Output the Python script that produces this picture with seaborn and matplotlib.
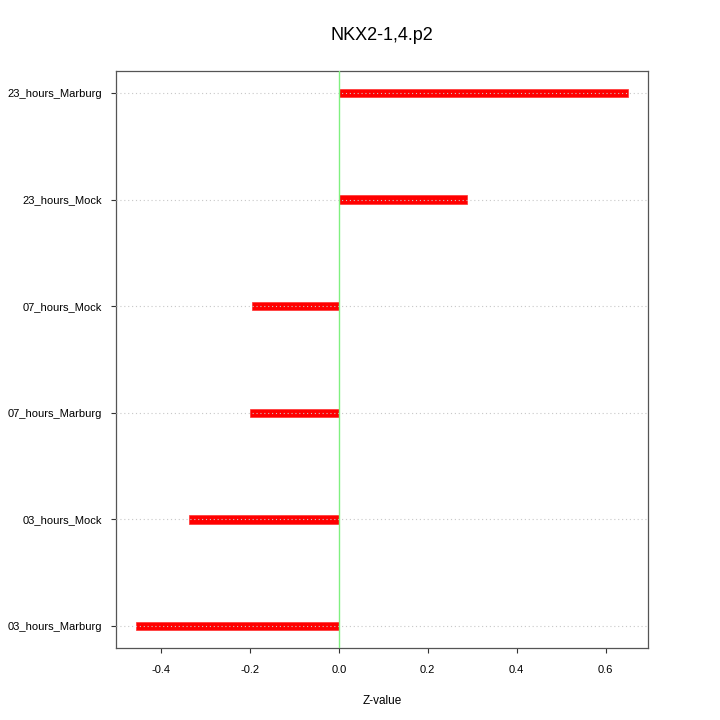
import matplotlib
matplotlib.use("Agg")
import matplotlib.pyplot as plt
import seaborn as sns
import pandas as pd

categories = ["23_hours_Marburg", "23_hours_Mock", "07_hours_Mock",
              "07_hours_Marburg", "03_hours_Mock", "03_hours_Marburg"]
values = [0.651, 0.288, -0.196, -0.200, -0.338, -0.457]
xticks = [-0.4, -0.2, 0.0, 0.2, 0.4, 0.6]
title = "NKX2-1,4.p2"
xlabel = "Z-value"

sns.set_theme(style="white")
plt.rcParams['font.family'] = ['Liberation Sans', 'DejaVu Sans']
plt.rcParams['text.color'] = 'black'

df = pd.DataFrame({"cat": categories, "val": values})

fig = plt.figure(figsize=(7.2, 7.2), dpi=100)
ax = fig.add_axes([116/720, 72/720, (648-116)/720, (648-71)/720])

sns.barplot(data=df, x="val", y="cat", order=categories, orient="h",
            width=0.08, color="#ff0000", saturation=1, ax=ax, zorder=2,
            edgecolor="#ff3030", linewidth=0.5)

for i in range(len(categories)):
    ax.axhline(i, color="#c8c8c8", linestyle=(0, (1, 2.5)), linewidth=0.8, zorder=3)
ax.axvline(0, color="#80f080", linewidth=1.0, zorder=4)

ax.set_xlim(-0.5015, 0.6955)
ax.set_ylim(5.206, -0.206)
ax.set_xticks(xticks)
ax.set_xticklabels([f"{t:.1f}" for t in xticks], fontsize=8)
ax.tick_params(axis="both", which="both", direction="out", length=3.5, width=0.8,
               color="#333333", labelsize=8, labelcolor="black",
               bottom=True, left=True)
ax.tick_params(axis="y", pad=6.5)
ax.tick_params(axis="x", pad=9)
ax.set_yticks(range(len(categories)))
ax.set_yticklabels(categories, fontsize=8)
ax.set_ylabel("")
ax.set_xlabel(xlabel, fontsize=8.5, labelpad=14.5, color="black")
for s in ax.spines.values():
    s.set_color("#555555")
    s.set_linewidth(0.9)
    s.set_visible(True)
ax.grid(False)
fig.suptitle(title, x=382/720, y=1-27/720, va="top", fontsize=13, color="black")

fig.savefig("out.png", dpi=100)
